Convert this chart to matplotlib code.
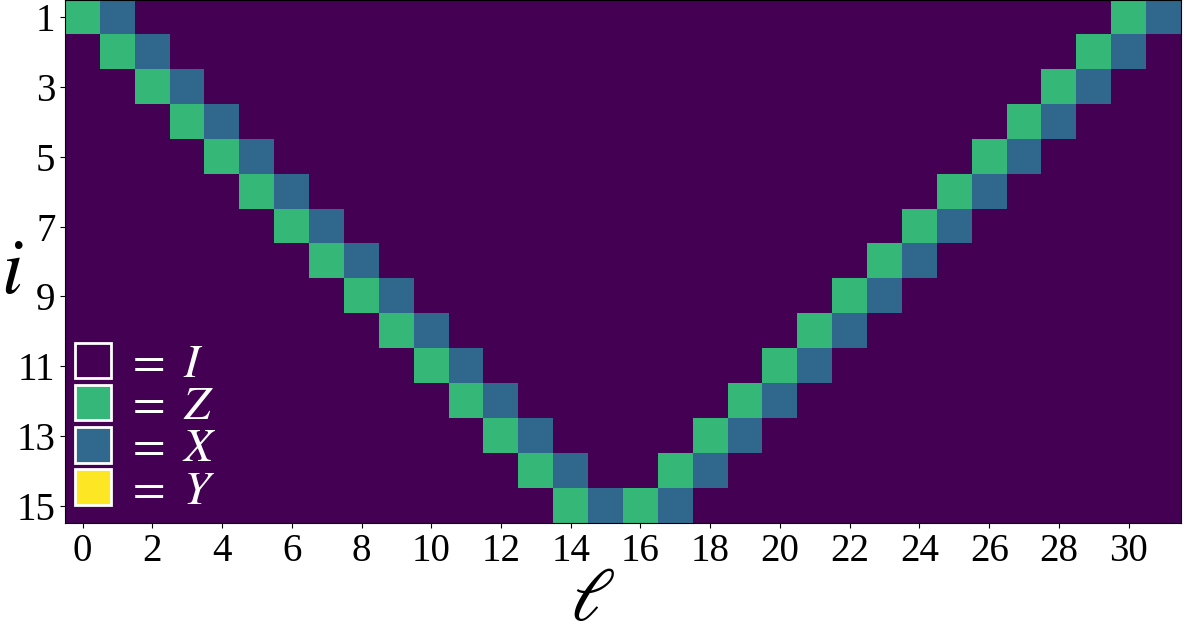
import numpy as np
import matplotlib
matplotlib.use('Agg')
import matplotlib.pyplot as plt
from matplotlib.patches import Patch

plt.rcParams['font.family'] = 'serif'
plt.rcParams['font.serif'] = ['Liberation Serif', 'DejaVu Serif']
plt.rcParams['mathtext.fontset'] = 'stix'

# Pauli codes: I=0, X=1, Z=2, Y=3 (viridis)
n_rows = 15
n_cols = 32
# column of Z / X for each row i (1..15), left and right branches
z_left = [0, 1, 2, 3, 4, 5, 6, 7, 8, 9, 10, 11, 12, 13, 14]
x_left = [1, 2, 3, 4, 5, 6, 7, 8, 9, 10, 11, 12, 13, 14, 15]
z_right = [30, 29, 28, 27, 26, 25, 24, 23, 22, 21, 20, 19, 18, 17, 16]
x_right = [31, 30, 29, 28, 27, 26, 25, 24, 23, 22, 21, 20, 19, 18, 17]
labels = [r'$=\ I$', r'$=\ Z$', r'$=\ X$', r'$=\ Y$']
codes = [0, 2, 1, 3]

grid = np.zeros((n_rows, n_cols))
for r in range(n_rows):
    grid[r, z_left[r]] = 2
    grid[r, x_left[r]] = 1
    grid[r, z_right[r]] = 2
    grid[r, x_right[r]] = 1

fig = plt.figure(figsize=(11.87, 6.34), dpi=100)
ax = fig.add_axes([0.0548, 0.175, 0.9402, 0.825])
cmap = plt.get_cmap('viridis')
ax.imshow(grid, cmap=cmap, vmin=0, vmax=3, aspect='equal', interpolation='nearest')

ax.set_xticks(range(0, n_cols, 2))
ax.set_yticks(range(0, n_rows, 2))
ax.set_yticklabels([str(i + 1) for i in range(0, n_rows, 2)])
ax.tick_params(labelsize=28)

# axis labels placed by their baseline
ax.set_xlabel(r'$\ell$', fontsize=54)
ax.xaxis.set_label_coords(0.473, -0.185)
ax.xaxis.label.set_va('baseline')
ax.set_ylabel(r'$i$', fontsize=56, rotation=0)
ax.yaxis.set_label_coords(-0.0475, 0.44)
ax.yaxis.label.set_va('baseline')
ax.yaxis.label.set_ha('center')

handles = [Patch(facecolor=cmap(c / 3), edgecolor='white', linewidth=2) for c in codes]
leg = ax.legend(handles, labels, loc='lower left', frameon=False, fontsize=34,
                handlelength=0.78, handleheight=0.78, labelspacing=-0.04,
                handletextpad=0.3, borderaxespad=0.1, borderpad=0.1)
for t in leg.get_texts():
    t.set_color('white')

fig.savefig('out.png', dpi=100)
